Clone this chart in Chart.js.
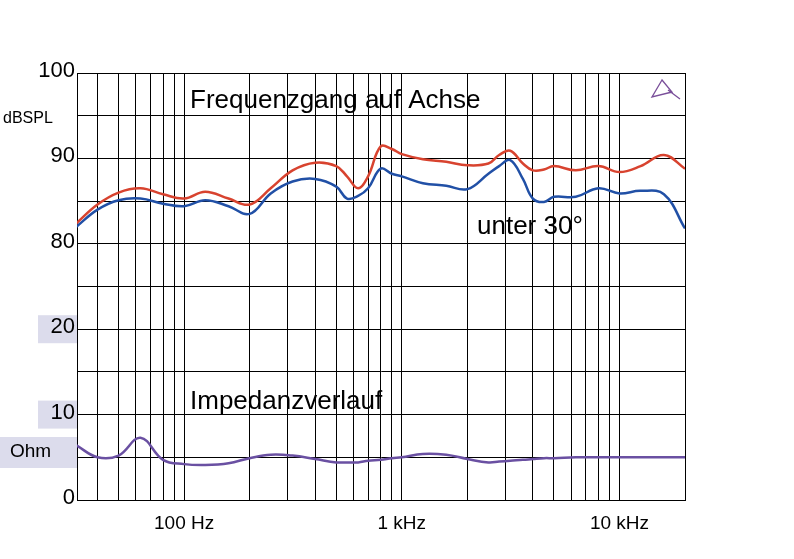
<!DOCTYPE html>
<html>
<head>
<meta charset="utf-8">
<script src="https://cdn.jsdelivr.net/npm/chart.js@4"></script>
<style>
  body { margin: 0; background: #fff; }
  #wrap { width: 794px; height: 559px; }
</style>
</head>
<body>
<div id="wrap"><canvas id="c"></canvas></div>
<script>
// frequencies in Hz (shared by all curves)
const freqs = [32, 40, 50, 63, 80, 100, 125, 160, 200, 250, 315, 400, 500, 560, 630, 700, 800, 900,
  1000, 1250, 1600, 2000, 2500, 2800, 3150, 3600, 4000, 4500, 5000, 6300, 8000, 10000, 12500, 16000, 20000];

// SPL on axis, dB
const splAxis = [82.4, 84.6, 86.0, 86.5, 85.8, 85.3, 86.1, 85.3, 84.6, 86.5, 88.6, 89.5, 89.1, 87.9, 86.5, 87.9, 91.4, 91.1,
  90.5, 89.9, 89.6, 89.2, 89.4, 90.4, 90.9, 89.4, 88.6, 88.7, 89.1, 88.6, 89.1, 88.4, 89.1, 90.4, 88.8];

// SPL at 30 degrees, dB
const spl30 = [82.0, 84.0, 85.1, 85.3, 84.7, 84.4, 85.1, 84.4, 83.5, 85.9, 87.3, 87.6, 86.7, 85.3, 85.6, 86.5, 88.8, 88.2,
  87.9, 87.1, 86.8, 86.4, 88.2, 89.1, 89.8, 87.6, 85.3, 84.9, 85.5, 85.5, 86.5, 85.9, 86.2, 85.8, 81.8];

// impedance, Ohm
const impedance = [6.4, 5.0, 5.2, 7.3, 4.7, 4.2, 4.1, 4.3, 4.9, 5.3, 5.2, 4.8, 4.4, 4.4, 4.4, 4.6, 4.7, 4.9,
  5.0, 5.4, 5.3, 4.8, 4.4, 4.5, 4.6, 4.7, 4.8, 4.9, 4.9, 5.0, 5.0, 5.0, 5.0, 5.0, 5.0];

// y tick labels: grid position -> label
const yTickPos = [10, 8, 6, 4, 2, 0];
const yTickLabels = ["100", "90", "80", "20", "10", "0"];
const xGridFreqs = [40, 50, 60, 70, 80, 90, 100, 200, 300, 400, 500, 600, 700, 800, 900,
  1000, 2000, 3000, 4000, 5000, 6000, 7000, 8000, 9000, 10000, 20000];
const xLabels = { 100: "100 Hz", 1000: "1 kHz", 10000: "10 kHz" };

// upper part: 100 dB at top, 5 dB per division; lower part: 0..20 Ohm over 4 divisions
const dbPos = v => (v - 50) / 5;
const ohmPos = v => v / 5;

const pts = (arr, f) => freqs.map((x, i) => ({ x: x, y: f(arr[i]) }));

const FONT = "'Liberation Sans', Arial, sans-serif";

const decor = {
  id: "decor",
  beforeDraw(chart) {
    const ctx = chart.ctx, y = chart.scales.y, a = chart.chartArea;
    ctx.save();
    ctx.fillStyle = "#dcdcec";
    ctx.fillRect(38, y.getPixelForValue(4) - 14, a.left - 38, 28);
    ctx.fillRect(38, y.getPixelForValue(2) - 14, a.left - 38, 28);
    ctx.fillRect(0, 437, a.left, 31);
    ctx.restore();
  },
  afterDraw(chart) {
    const ctx = chart.ctx, y = chart.scales.y;
    ctx.save();
    ctx.fillStyle = "#000";
    ctx.textAlign = "right";
    ctx.textBaseline = "middle";
    ctx.font = "22px " + FONT;
    yTickPos.forEach((p, i) => ctx.fillText(yTickLabels[i], 75, y.getPixelForValue(p) - 2));
    ctx.textAlign = "left";
    ctx.font = "16px " + FONT;
    ctx.fillText("dBSPL", 3, 119);
    ctx.font = "19px " + FONT;
    ctx.fillText("Ohm", 10, 452);
    ctx.font = "26px " + FONT;
    ctx.fillText("Frequenzgang auf Achse", 190, 101);
    ctx.fillText("Impedanzverlauf", 190, 402);
    ctx.fillText("unter 30°", 477, 227);
    // small logo
    ctx.strokeStyle = "#7a4f9a";
    ctx.lineWidth = 1.3;
    ctx.beginPath();
    ctx.moveTo(662, 80); ctx.lineTo(652, 97); ctx.lineTo(672, 92); ctx.closePath();
    ctx.moveTo(668, 90); ctx.lineTo(680, 99);
    ctx.stroke();
    ctx.restore();
  }
};

new Chart(document.getElementById("c"), {
  type: "line",
  data: {
    datasets: [
      { data: pts(splAxis, dbPos), borderColor: "#d8432f", borderWidth: 2.5, pointRadius: 0, tension: 0.4 },
      { data: pts(spl30, dbPos), borderColor: "#2150a6", borderWidth: 2.5, pointRadius: 0, tension: 0.4 },
      { data: pts(impedance, ohmPos), borderColor: "#6a50a2", borderWidth: 2.5, pointRadius: 0, tension: 0.4 }
    ]
  },
  options: {
    responsive: true,
    maintainAspectRatio: false,
    animation: false,
    layout: { padding: { top: 73, right: 109, left: 0, bottom: 0 } },
    plugins: { legend: { display: false }, tooltip: { enabled: false } },
    scales: {
      x: {
        type: "logarithmic",
        min: 32.2,
        max: 20000,
        afterBuildTicks: s => { s.ticks = xGridFreqs.map(v => ({ value: v })); },
        afterFit: s => { s.height = 59; },
        border: { display: true, color: "#000", width: 1 },
        grid: { color: "#000", lineWidth: 1, drawTicks: false },
        ticks: {
          autoSkip: false,
          maxRotation: 0,
          padding: 12,
          color: "#000",
          font: { size: 19, family: FONT },
          callback: v => xLabels[v] || ""
        }
      },
      y: {
        min: 0,
        max: 10,
        afterBuildTicks: s => { s.ticks = [0,1,2,3,4,5,6,7,8,9,10].map(v => ({ value: v })); },
        afterFit: s => { s.width = 77; },
        border: { display: true, color: "#000", width: 1 },
        grid: { color: "#000", lineWidth: 1, drawTicks: false },
        ticks: { display: false }
      }
    }
  },
  plugins: [decor]
});
</script>
</body>
</html>
